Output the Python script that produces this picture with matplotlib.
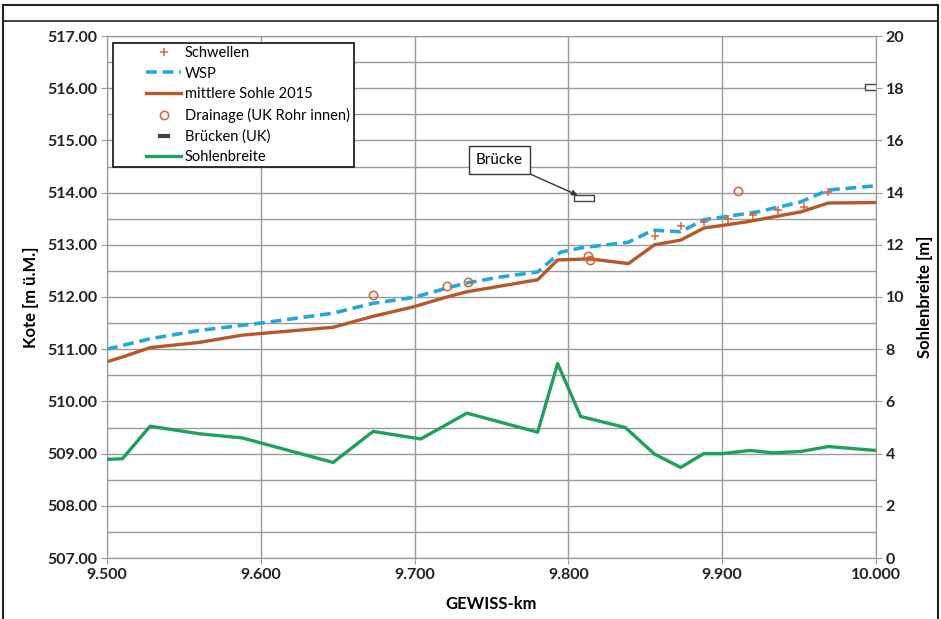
import numpy as np
import matplotlib
matplotlib.use('Agg')
import matplotlib.pyplot as plt
from matplotlib.ticker import MultipleLocator, FormatStrFormatter
from matplotlib.lines import Line2D
from matplotlib.patches import Rectangle

plt.rcParams['font.family'] = ['Lato', 'DejaVu Sans']

#####data###############################
sohle_km  = [9.500, 9.510, 9.528, 9.560, 9.588, 9.647, 9.673, 9.699, 9.721, 9.734,
             9.780, 9.793, 9.814, 9.839, 9.856, 9.873, 9.888, 9.916, 9.951, 9.969, 10.000]
sohle_z   = [510.76, 510.85, 511.03, 511.13, 511.27, 511.42, 511.63, 511.81, 512.00, 512.10,
             512.33, 512.71, 512.73, 512.64, 513.00, 513.09, 513.32, 513.44, 513.63, 513.80, 513.81]

wsp_km    = [9.500, 9.528, 9.560, 9.600, 9.647, 9.673, 9.699, 9.721, 9.734, 9.755,
             9.780, 9.795, 9.808, 9.839, 9.855, 9.873, 9.888, 9.900, 9.923, 9.951, 9.969, 10.000]
wsp_z     = [511.00, 511.20, 511.36, 511.50, 511.69, 511.88, 511.99, 512.17, 512.27, 512.38,
             512.48, 512.86, 512.94, 513.05, 513.28, 513.25, 513.48, 513.53, 513.63, 513.82, 514.05, 514.13]

schw_km   = [9.856, 9.873, 9.888, 9.904, 9.920, 9.936, 9.953, 9.969]
schw_z    = [513.17, 513.36, 513.44, 513.49, 513.57, 513.67, 513.73, 514.02]

drain_km  = [9.673, 9.721, 9.735, 9.813, 9.814, 9.910]
drain_z   = [512.03, 512.22, 512.28, 512.78, 512.71, 514.03]

bruck_km  = [9.810, 9.9995]
bruck_z   = [513.90, 516.02]

breite_km = [9.500, 9.510, 9.528, 9.560, 9.588, 9.647, 9.673, 9.704, 9.734, 9.780,
             9.793, 9.808, 9.837, 9.856, 9.873, 9.888, 9.900, 9.918, 9.933, 9.951, 9.969, 10.000]
breite_b  = [3.78, 3.80, 5.05, 4.76, 4.60, 3.66, 4.85, 4.56, 5.55, 4.82,
             7.45, 5.42, 5.00, 3.98, 3.47, 4.00, 4.00, 4.12, 4.03, 4.08, 4.27, 4.12]

#####colours###########################
c_brown = '#B8572A'
c_blue  = '#22A9D9'
c_green = '#20A05C'
c_mark  = '#D2643E'
c_grid  = '#9A9A9A'

#####figure############################
fig = plt.figure(figsize=(9.41, 6.19), dpi=100)
ax  = fig.add_axes([107/941, 1-558/619, 769/941, 522/619])
ax2 = ax.twinx()

ax.set_xlim(9.5, 10.0)
ax.set_ylim(507, 517)
ax2.set_ylim(0, 20)

ax.xaxis.set_major_locator(MultipleLocator(0.1))
ax.xaxis.set_major_formatter(FormatStrFormatter('%.3f'))
ax.yaxis.set_major_locator(MultipleLocator(1.0))
ax.yaxis.set_minor_locator(MultipleLocator(0.5))
ax.yaxis.set_major_formatter(FormatStrFormatter('%.2f'))
ax2.yaxis.set_major_locator(MultipleLocator(2))

ax.grid(True, which='both', axis='y', color=c_grid, lw=1.0)
ax.grid(True, which='major', axis='x', color=c_grid, lw=1.0)
ax.set_axisbelow(True)
ax.tick_params(which='minor', length=0)
for a in (ax, ax2):
    a.tick_params(axis='both', which='major', length=4, color=c_grid,
                  labelsize=11.5, pad=3)
    for s in a.spines.values():
        s.set_color(c_grid)
    for lab in a.get_xticklabels() + a.get_yticklabels():
        lab.set_fontweight('bold')
        lab.set_color('#222222')

#####series############################
ax.plot(sohle_km, sohle_z, color=c_brown, lw=2.4, zorder=3)
ax.plot(wsp_km, wsp_z, color=c_blue, lw=2.6, ls=(0, (3, 1.6)), zorder=4)
ax.plot(schw_km, schw_z, ls='none', marker='+', ms=6, mew=1.1, color=c_mark, zorder=5)
ax.plot(drain_km, drain_z, ls='none', marker='o', ms=6, mfc='none', mew=1.1,
        mec=c_mark, zorder=5)
rect = [(-4, -1), (4, -1), (4, 1), (-4, 1), (-4, -1)]
ax.plot(bruck_km, bruck_z, ls='none', marker=rect, ms=15, mfc='white', mec='#444444',
        mew=1.0, zorder=5)
ax2.plot(breite_km, breite_b, color=c_green, lw=2.4, zorder=3)

ax.annotate('Brücke', xy=(9.806, 513.95), xytext=(9.755, 514.62),
            ha='center', va='center', fontsize=11,
            bbox=dict(boxstyle='square,pad=0.45', fc='white', ec='#333333', lw=1.0),
            arrowprops=dict(arrowstyle='-|>', color='#333333', lw=1.0,
                            shrinkA=0, shrinkB=0, mutation_scale=8),
            zorder=6)

#####legend############################
handles = [
    Line2D([], [], ls='none', marker='+', ms=6, mew=1.1, color=c_mark),
    Line2D([], [], color=c_blue, lw=2.6, ls=(0, (3, 1.6))),
    Line2D([], [], color=c_brown, lw=2.4),
    Line2D([], [], ls='none', marker='o', ms=6, mfc='none', mew=1.1, mec=c_mark),
    Line2D([], [], ls='none', marker='_', ms=9, mew=3, color='#444444'),
    Line2D([], [], color=c_green, lw=2.4),
]
labels = ['Schwellen', 'WSP', 'mittlere Sohle 2015', 'Drainage (UK Rohr innen)',
          'Brücken (UK)', 'Sohlenbreite']
# frame drawn separately, legend itself has no frame
ax2.add_patch(Rectangle(((113-107)/769, 1-(167-36)/522), (354-113)/769, (167-43)/522,
                        transform=ax2.transAxes, fc='white', ec='#222222', lw=1.3, zorder=7))
leg = ax2.legend(handles, labels, loc='upper left',
                 bbox_to_anchor=((146-107)/769, 1-(46-36)/522),
                 borderaxespad=0, borderpad=0, fontsize=10.5, frameon=False,
                 handlelength=2.4, handletextpad=0.25, labelspacing=0.45)
leg.set_zorder(8)

#####labels############################
ax.set_xlabel('GEWISS-km', fontsize=12, fontweight='bold', labelpad=10)
ax.set_ylabel('Kote [m ü.M.]', fontsize=12, fontweight='bold', labelpad=6)
ax2.set_ylabel('Sohlenbreite [m]', fontsize=12, fontweight='bold', labelpad=9)

#####page frame########################
fig.add_artist(Line2D([3/941, 3/941], [0, 1-5/619], transform=fig.transFigure, color='#222222', lw=1.5))
fig.add_artist(Line2D([938/941, 938/941], [0, 1-5/619], transform=fig.transFigure, color='#222222', lw=1.5))
fig.add_artist(Line2D([3/941, 938/941], [1-5/619, 1-5/619], transform=fig.transFigure, color='#222222', lw=1.5))
fig.add_artist(Line2D([3/941, 938/941], [1-21/619, 1-21/619], transform=fig.transFigure, color='#222222', lw=1.2))

fig.savefig('out.png', dpi=100)
